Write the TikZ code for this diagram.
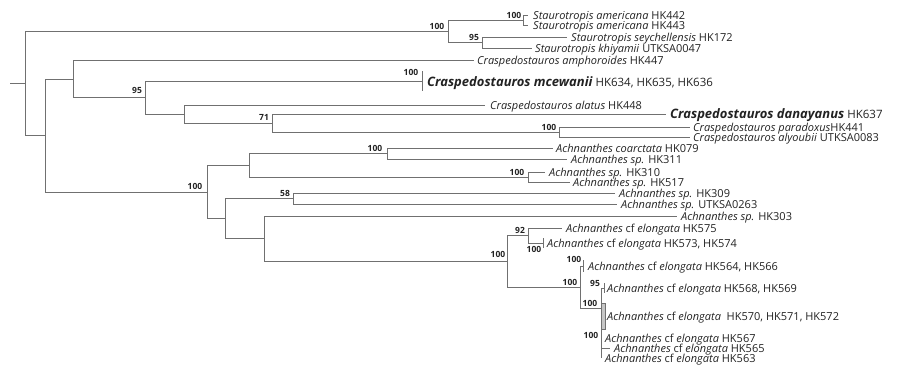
\documentclass[tikz,border=0pt]{standalone}
\usepackage{fontspec}
\setmainfont{Open Sans}
\definecolor{brc}{HTML}{707070}
\definecolor{txc}{HTML}{222222}
\newcommand\tax[2]{\textit{#1} #2}
\newcommand\elo[1]{\textit{Achnanthes} cf \textit{elongata} #1}
\begin{document}
\begin{tikzpicture}[x=1pt,y=-1pt,
  brl/.style={draw=brc, line width=0.9pt},
  tip/.style={anchor=base west, inner sep=0pt, text=txc, font=\fontsize{11}{13}\selectfont},
  big/.style={anchor=base west, inner sep=0pt, text=txc, font=\fontsize{11.5}{13}\selectfont},
  bsl/.style={inner sep=0pt, text=txc, font=\bfseries\fontsize{8.5}{10}\selectfont}]
\useasboundingbox (0,0) rectangle (901,368);
% coordinates
\coordinate (s0) at (10,83);
\coordinate (r) at (25,83);
\coordinate (st) at (448,31);
\coordinate (am) at (523,20);
\coordinate (am1) at (528,15);
\coordinate (am2) at (528,25);
\coordinate (s95) at (482,42.5);
\coordinate (sey) at (567,37);
\coordinate (khi) at (532,48);
\coordinate (c1) at (45,135.5);
\coordinate (c2) at (73,79);
\coordinate (amph) at (474,60);
\coordinate (c95) at (145,97.5);
\coordinate (mce) at (422,81);
\coordinate (c3) at (184,114.5);
\coordinate (ala) at (485,105);
\coordinate (c71) at (272,123);
\coordinate (dan) at (666,114);
\coordinate (c100) at (559,132);
\coordinate (par) at (690,127);
\coordinate (aly) at (690,137);
\coordinate (ach) at (207,192);
\coordinate (a1) at (249,165.5);
\coordinate (a3) at (387,153.5);
\coordinate (coa) at (553,148);
\coordinate (h311) at (567,159);
\coordinate (a4) at (528,177);
\coordinate (h310) at (545,172);
\coordinate (h517) at (570,182);
\coordinate (a2) at (225,218.5);
\coordinate (a58) at (293,198.5);
\coordinate (h309) at (615,193);
\coordinate (utk) at (617,204);
\coordinate (a5) at (264,238.5);
\coordinate (h303) at (677,216);
\coordinate (e1) at (507,261.5);
\coordinate (e92) at (528,235.5);
\coordinate (h575) at (562,228);
\coordinate (h573) at (543,243);
\coordinate (eA) at (580,287);
\coordinate (h564) at (583,266);
\coordinate (eB) at (601,308);
\coordinate (h568) at (604,288);
\coordinate (eC) at (601,348);
\coordinate (h567) at (601,338);
\coordinate (h565) at (610,348);
\coordinate (h563) at (601,358);
% branches
\draw[brl] (s0) -- (r);
\draw[brl] (r) |- (st) (r) |- (c1);
\draw[brl] (st) |- (am) (st) |- (s95);
\draw[brl] (am) |- (am1) (am) |- (am2);
\draw[brl] (s95) |- (sey) (s95) |- (khi);
\draw[brl] (c1) |- (c2) (c1) |- (ach);
\draw[brl] (c2) |- (amph) (c2) |- (c95);
\draw[brl] (c95) |- (mce) (c95) |- (c3);
\draw[brl] (c3) |- (ala) (c3) |- (c71);
\draw[brl] (c71) |- (dan) (c71) |- (c100);
\draw[brl] (c100) |- (par) (c100) |- (aly);
\draw[brl] (ach) |- (a1) (ach) |- (a2);
\draw[brl] (a1) |- (a3) (a1) |- (a4);
\draw[brl] (a3) |- (coa) (a3) |- (h311);
\draw[brl] (a4) |- (h310) (a4) |- (h517);
\draw[brl] (a2) |- (a58) (a2) |- (a5);
\draw[brl] (a58) |- (h309) (a58) |- (utk);
\draw[brl] (a5) |- (h303) (a5) |- (e1);
\draw[brl] (e1) |- (e92) (e1) |- (eA);
\draw[brl] (e92) |- (h575) (e92) |- (h573);
\draw[brl] (eA) |- (h564) (eA) |- (eB);
\draw[brl] (eB) |- (h568) (eB) |- (eC);
\draw[brl] (eC) |- (h567) (eC) |- (h565) (eC) |- (h563);
% collapsed clusters
\draw[brl] (mce) ++(0,-10) -- ++(0,20);
\draw[brl] (h573) ++(0,-5) -- ++(0,10);
\draw[brl] (h564) ++(0,-6) -- ++(0,12);
\draw[brl] (h568) ++(0,-5) -- ++(0,10);
\draw[brl, fill=brc!40] (601.5,303) rectangle (605,329);
% tip labels
\node[tip] (Lam1) at (533,19) {\tax{Staurotropis americana}{HK442}};
\node[tip] (Lam2) at (533,29) {\tax{Staurotropis americana}{HK443}};
\node[tip] (Lsey) at (571,41) {\tax{Staurotropis seychellensis}{HK172}};
\node[tip] (Lkhi) at (535,52) {\tax{Staurotropis khiyamii}{UTKSA0047}};
\node[tip] (Lamph) at (477,64) {\tax{Craspedostauros amphoroides}{HK447}};
\node[big] (Lmce) at (427,86) {{\bfseries\itshape\fontsize{13}{15}\selectfont Craspedostauros mcewanii} HK634, HK635, HK636};
\node[big] (Ldan) at (670,118) {{\bfseries\itshape\fontsize{13}{15}\selectfont Craspedostauros danayanus} HK637};
\node[tip] (Lala) at (490,109) {\tax{Craspedostauros alatus}{HK448}};
\node[tip] (Lpar) at (693,131) {\textit{Craspedostauros paradoxus}HK441};
\node[tip] (Laly) at (693,141) {\tax{Craspedostauros alyoubii}{UTKSA0083}};
\node[tip] (Lcoa) at (556,152) {\tax{Achnanthes coarctata}{HK079}};
\node[tip] (L311) at (571,163) {\tax{Achnanthes sp.}{HK311}};
\node[tip] (L310) at (549,176) {\tax{Achnanthes sp.}{HK310}};
\node[tip] (L517) at (573,186) {\tax{Achnanthes sp.}{HK517}};
\node[tip] (L309) at (619,197) {\tax{Achnanthes sp.}{HK309}};
\node[tip] (Lutk) at (621,208) {\tax{Achnanthes sp.}{UTKSA0263}};
\node[tip] (L303) at (681,220) {\tax{Achnanthes sp.}{HK303}};
\node[tip] (L575) at (566,232) {\elo{HK575}};
\node[tip] (L573) at (547,247) {\elo{HK573, HK574}};
\node[tip] (L564) at (588,270) {\elo{HK564, HK566}};
\node[tip] (L568) at (607,292) {\elo{HK568, HK569}};
\node[tip] (L570) at (607,320) {\elo{\ HK570, HK571, HK572}};
\node[tip] (L567) at (605,342) {\elo{HK567}};
\node[tip] (L565) at (614,352) {\elo{HK565}};
\node[tip] (L563) at (605,362) {\elo{HK563}};
% support values
\node[bsl] (Bst) at (437,26) {100};
\node[bsl] (Bam) at (514,15) {100};
\node[bsl] (Bs95) at (474,37) {95};
\node[bsl] (Bmce) at (411,72) {100};
\node[bsl] (Bc95) at (137,90) {95};
\node[bsl] (Bc71) at (264,117) {71};
\node[bsl] (Bc100) at (549,127) {100};
\node[bsl] (Bach) at (195,186) {100};
\node[bsl] (Ba3) at (375,148) {100};
\node[bsl] (Ba4) at (517,172) {100};
\node[bsl] (Ba58) at (285,193) {58};
\node[bsl] (Be1) at (498,254) {100};
\node[bsl] (Be92) at (520,230) {92};
\node[bsl] (B573) at (534,249) {100};
\node[bsl] (B564) at (574,259) {100};
\node[bsl] (BeA) at (570,282) {100};
\node[bsl] (BeB) at (590,303) {100};
\node[bsl] (B568) at (595,283) {95};
\node[bsl] (BeC) at (591,335) {100};
\end{tikzpicture}
\end{document}
